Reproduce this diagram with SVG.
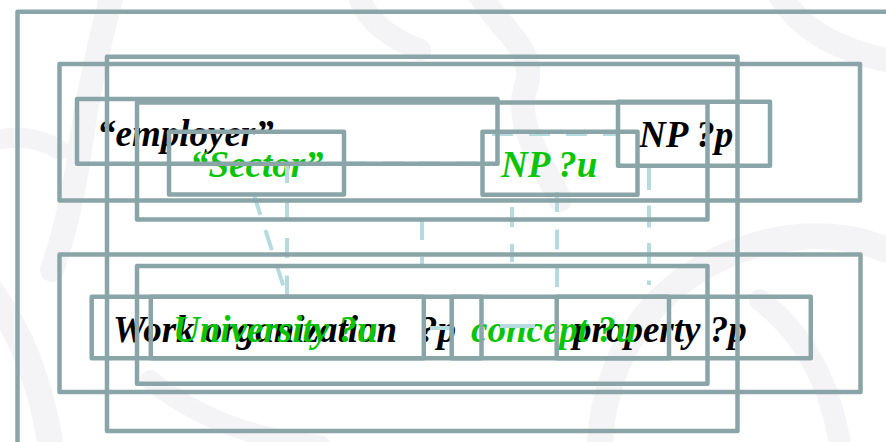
<svg xmlns="http://www.w3.org/2000/svg" width="886" height="442" viewBox="0 0 886 442">
  <style>
    .box{fill:none;stroke:#8aa5a8;stroke-width:4.5;stroke-linejoin:round}
    .link{fill:none;stroke:#b6dbdf;stroke-width:4;stroke-dasharray:21 16}
    .t{font-family:"Liberation Serif","Times New Roman",serif;font-weight:bold;font-style:italic;font-size:37px}
    .k{fill:#000000}
    .g{fill:#0ac40a}
    .wm{fill:none;stroke:#f4f4f6;stroke-linecap:round}
  </style>

  <rect x="0" y="0" width="886" height="442" fill="#ffffff"/>

  <!-- faint calligraphic backdrop -->
  <g id="backdrop">
    <path class="wm" stroke-width="24" d="M112 -5 C100 40 88 90 80 150 C74 190 66 230 52 270"/>
    <path class="wm" stroke-width="20" d="M-5 140 C20 135 40 138 60 150"/>
    <path class="wm" stroke-width="26" d="M-10 290 C20 330 40 380 50 442"/>
    <path class="wm" stroke-width="22" d="M360 0 C370 25 395 40 420 50"/>
    <path class="wm" stroke-width="24" d="M480 -5 C500 30 540 50 525 90 C515 120 540 160 560 200"/>
    <path class="wm" stroke-width="24" d="M780 -5 C800 30 840 50 886 60"/>
    <path class="wm" stroke-width="26" d="M886 250 C820 220 720 240 660 300 C620 340 600 400 600 450"/>
    <path class="wm" stroke-width="20" d="M150 380 C200 420 260 440 320 445"/>
    <path class="wm" stroke-width="22" d="M760 300 C800 330 830 380 840 445"/>
  </g>

  <!-- labels -->
  <g id="labels" class="t">
    <text id="employer" class="k" x="97" y="146">“employer”</text>
    <text id="np-p" class="k" x="639" y="147">NP ?p</text>
    <text id="work-org" class="k" x="113" y="342">Work organization<tspan x="419">?p</tspan></text>
    <text id="property" class="k" x="573" y="342">property ?p</text>
    <text id="sector" class="g" x="190" y="177">“Sector”</text>
    <text id="np-u" class="g" x="501" y="177">NP ?u</text>
    <text id="university" class="g" x="173" y="342">University ?u</text>
    <text id="concept" class="g" x="471" y="342">concept ?u</text>
  </g>

  <!-- dashed links -->
  <g id="connectors" class="link">
    <line x1="345" y1="163.5" x2="483" y2="163.5"/>
    <line x1="492" y1="134" x2="618" y2="134"/>
    <line x1="254" y1="195" x2="287" y2="297"/>
    <line x1="287" y1="163" x2="287" y2="297" stroke-dasharray="20 17.5"/>
    <line x1="422" y1="220" x2="422" y2="267" stroke-dasharray="20 17"/>
    <line x1="512" y1="207" x2="512" y2="262" stroke-dasharray="20 17"/>
    <line x1="557" y1="192" x2="557" y2="287" stroke-dasharray="20 17.5"/>
    <line x1="649" y1="168" x2="649" y2="285" stroke-dasharray="22 15.5"/>
    <line x1="430" y1="328" x2="452" y2="328" stroke-dasharray="none"/>
    <line x1="500" y1="326" x2="535" y2="326" stroke-dasharray="none"/>
  </g>

  <!-- frames -->
  <g id="frame-outer"><rect class="box" x="17.5" y="11.7" width="900" height="460"/></g>
  <g id="frame-a"><rect class="box" x="107" y="56.7" width="630.5" height="374.3"/></g>
  <g id="frame-top"><rect class="box" x="59.5" y="64" width="800.5" height="136.5"/></g>
  <g id="frame-top-inner"><rect class="box" x="137" y="102.5" width="570.5" height="117"/></g>
  <g id="node-employer"><rect class="box" x="77" y="99" width="420.5" height="64.7"/></g>
  <g id="node-sector"><rect class="box" x="169" y="131.7" width="175" height="62.8"/></g>
  <g id="node-np-u"><rect class="box" x="482.5" y="131.7" width="155" height="63"/></g>
  <g id="node-np-p"><rect class="box" x="618" y="101.7" width="152" height="64.1"/></g>
  <g id="frame-bottom"><rect class="box" x="59.5" y="254.5" width="801" height="137.5"/></g>
  <g id="frame-bottom-inner"><rect class="box" x="137" y="266" width="570.5" height="117.7"/></g>
  <g id="node-work-org"><rect class="box" x="91.7" y="296.7" width="389.8" height="61.6"/></g>
  <g id="node-university"><rect class="box" x="150.8" y="296.7" width="273" height="61.6"/></g>
  <g id="node-concept"><rect class="box" x="451.7" y="296.7" width="217.3" height="61.6"/></g>
  <g id="node-property"><rect class="box" x="556.7" y="296.7" width="254.1" height="61.6"/></g>
</svg>
